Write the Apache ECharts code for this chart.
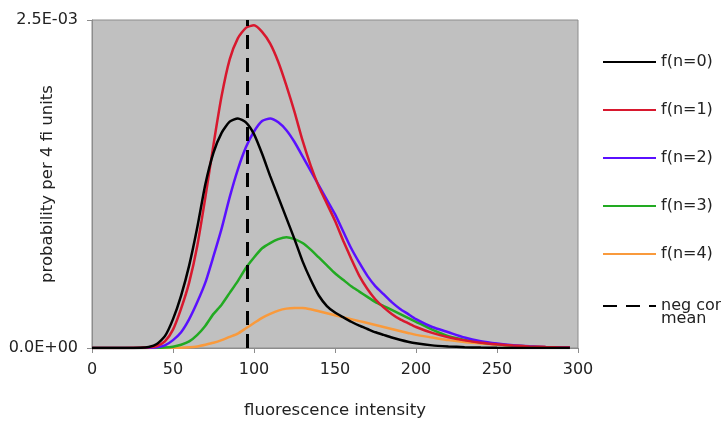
<!DOCTYPE html>
<html>
<head>
<meta charset="utf-8">
<script src="https://cdn.jsdelivr.net/npm/echarts@6/dist/echarts.min.js"></script>
<style>
  html, body { margin: 0; padding: 0; background: #fff; }
  #chart { width: 721px; height: 421px; }
</style>
</head>
<body>
<div id="chart"></div>
<script>
// fluorescence intensity (x)
var xs = [0, 10, 20, 30, 35, 40, 45, 50, 55, 60, 65, 70, 75, 80, 85, 90, 95, 100, 105, 110, 115, 120, 125, 130, 135, 140, 145, 150, 155, 160, 165, 170, 175, 180, 185, 190, 195, 200, 210, 220, 230, 240, 250, 260, 270, 280, 290, 295];
// probability per 4 fi units, in units of 1E-03
var n0 = [0, 0, 0, 0.002, 0.008, 0.03, 0.09, 0.22, 0.40, 0.63, 0.92, 1.25, 1.49, 1.64, 1.725, 1.75, 1.72, 1.63, 1.48, 1.31, 1.15, 0.99, 0.83, 0.66, 0.52, 0.40, 0.32, 0.27, 0.235, 0.20, 0.17, 0.145, 0.12, 0.10, 0.08, 0.063, 0.048, 0.036, 0.02, 0.012, 0.006, 0.003, 0.001, 0, 0, 0, 0, 0];
var n1 = [0, 0, 0, 0.001, 0.005, 0.015, 0.05, 0.14, 0.30, 0.50, 0.78, 1.15, 1.55, 1.92, 2.20, 2.36, 2.44, 2.46, 2.41, 2.32, 2.18, 2.00, 1.80, 1.58, 1.39, 1.23, 1.10, 0.97, 0.82, 0.68, 0.55, 0.45, 0.37, 0.31, 0.26, 0.22, 0.19, 0.16, 0.115, 0.082, 0.058, 0.04, 0.028, 0.019, 0.012, 0.007, 0.004, 0.003];
var n2 = [0, 0, 0, 0, 0.001, 0.005, 0.02, 0.06, 0.12, 0.22, 0.35, 0.50, 0.70, 0.91, 1.15, 1.36, 1.53, 1.65, 1.73, 1.75, 1.72, 1.66, 1.57, 1.46, 1.35, 1.24, 1.13, 1.02, 0.89, 0.76, 0.65, 0.55, 0.47, 0.41, 0.35, 0.30, 0.26, 0.22, 0.16, 0.12, 0.08, 0.052, 0.034, 0.021, 0.013, 0.008, 0.004, 0.003];
var n3 = [0, 0, 0, 0, 0, 0.001, 0.003, 0.01, 0.025, 0.05, 0.10, 0.17, 0.26, 0.33, 0.42, 0.51, 0.61, 0.69, 0.76, 0.80, 0.83, 0.845, 0.83, 0.80, 0.75, 0.69, 0.63, 0.57, 0.52, 0.47, 0.43, 0.39, 0.35, 0.32, 0.29, 0.26, 0.23, 0.20, 0.14, 0.09, 0.062, 0.042, 0.028, 0.018, 0.011, 0.006, 0.003, 0.002];
var n4 = [0, 0, 0, 0, 0, 0, 0, 0.001, 0.002, 0.005, 0.012, 0.025, 0.04, 0.06, 0.085, 0.11, 0.15, 0.19, 0.23, 0.26, 0.285, 0.30, 0.305, 0.305, 0.295, 0.28, 0.265, 0.25, 0.235, 0.22, 0.205, 0.19, 0.175, 0.16, 0.145, 0.13, 0.115, 0.10, 0.08, 0.06, 0.045, 0.035, 0.025, 0.018, 0.012, 0.008, 0.005, 0.003];
// negative control mean
var negMean = 96;
var yMax = 0.0025;

function pairs(arr) {
  return xs.map(function (x, i) { return [x, arr[i] * 1e-3]; });
}

// 2.5E-03 style labels
function sci(v) {
  if (v === 0) return '0.0E+00';
  var p = Math.floor(Math.log10(Math.abs(v)) + 1e-9);
  var m = v / Math.pow(10, p);
  var e = Math.abs(p) < 10 ? '0' + Math.abs(p) : '' + Math.abs(p);
  return m.toFixed(1) + 'E' + (p < 0 ? '-' : '+') + e;
}

var chart = echarts.init(document.getElementById('chart'));
var font = 'DejaVu Sans';

function curve(name, color, arr) {
  return {
    name: name,
    type: 'line',
    data: pairs(arr),
    smooth: 0.2,
    symbol: 'none',
    lineStyle: { color: color, width: 2.5 },
    itemStyle: { color: color },
    z: 3
  };
}

var legendBase = {
  orient: 'vertical',
  left: 597,
  itemWidth: 53,
  itemHeight: 14,
  itemGap: 32,
  itemStyle: { opacity: 0, borderWidth: 0 },
  textStyle: { fontFamily: font, fontSize: 16, color: '#222', lineHeight: 13 }
};

var option = {
  backgroundColor: '#fff',
  animation: false,
  textStyle: { fontFamily: font },
  grid: {
    left: 92, right: 143, top: 20, bottom: 73,
    containLabel: false,
    outerBoundsMode: 'none',
    show: true,
    backgroundColor: '#c0c0c0',
    borderColor: '#8c8c8c',
    borderWidth: 1
  },
  legend: [
    Object.assign({}, legendBase, {
      top: 49,
      data: ['f(n=0)', 'f(n=1)', 'f(n=2)', 'f(n=3)', 'f(n=4)']
    }),
    Object.assign({}, legendBase, {
      top: 280,
      // empty first line so that 'neg con' sits level with the dashes
      formatter: function (name) { return '\n' + name; },
      data: ['neg con\nmean']
    })
  ],
  xAxis: {
    type: 'value',
    min: 0, max: 300, interval: 50,
    name: 'fluorescence intensity',
    nameLocation: 'middle',
    nameGap: 54,
    nameMoveOverlap: false,
    nameTextStyle: { fontFamily: font, fontSize: 16.5, color: '#222' },
    axisLine: { show: true, lineStyle: { color: '#8c8c8c', width: 1 } },
    axisTick: { show: true, length: 5, lineStyle: { color: '#8c8c8c' } },
    axisLabel: { fontFamily: font, fontSize: 16, color: '#222', margin: 14 },
    splitLine: { show: false }
  },
  yAxis: {
    type: 'value',
    min: 0, max: yMax, interval: yMax,
    name: 'probability per 4 fi units',
    nameLocation: 'middle',
    nameGap: 36,
    nameMoveOverlap: false,
    nameTextStyle: { fontFamily: font, fontSize: 16.5, color: '#222' },
    axisLine: { show: true, lineStyle: { color: '#8c8c8c', width: 1 } },
    axisTick: { show: true, length: 5, lineStyle: { color: '#8c8c8c' } },
    axisLabel: { fontFamily: font, fontSize: 16, color: '#222', margin: 14, formatter: sci },
    splitLine: { show: false }
  },
  series: [
    curve('f(n=4)', '#f99a3c', n4),
    curve('f(n=3)', '#22aa22', n3),
    curve('f(n=2)', '#5a10ff', n2),
    curve('f(n=1)', '#d8182e', n1),
    curve('f(n=0)', '#000000', n0),
    {
      name: 'neg con\nmean',
      type: 'line',
      data: [[negMean, 0], [negMean, yMax]],
      symbol: 'none',
      lineStyle: { color: '#000', width: 3, type: [14, 9] },
      itemStyle: { color: '#000' },
      z: 4
    }
  ]
};

chart.setOption(option);
</script>
</body>
</html>
